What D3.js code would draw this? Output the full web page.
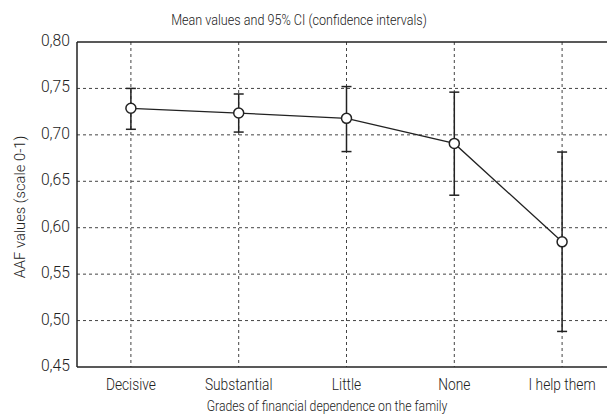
<!DOCTYPE html>
<html>
<head>
<meta charset="utf-8">
<script src="https://cdn.jsdelivr.net/npm/d3@7"></script>
<style>
  body { margin: 0; background: #fff; }
  text { font-family: "Roboto", "Liberation Sans", sans-serif; font-weight: 300; fill: #222; }
</style>
</head>
<body>
<div id="chart"></div>
<script>
var categories = ["Decisive", "Substantial", "Little", "None", "I help them"];
var means = [0.7286, 0.7235, 0.7178, 0.6908, 0.5848];
var upper = [0.750, 0.744, 0.752, 0.746, 0.6815];
var lower = [0.706, 0.703, 0.682, 0.635, 0.4883];
var yTicks = [0.45, 0.50, 0.55, 0.60, 0.65, 0.70, 0.75, 0.80];

var width = 607,
    height = 414,
    margin = {top: 42, right: -9, bottom: 47, left: 77};

var svg = d3.select("#chart").append("svg")
  .attr("width", width)
  .attr("height", height);

var x = d3.scalePoint()
  .domain(categories)
  .range([margin.left, width - margin.right])
  .padding(0.5);

var y = d3.scaleLinear()
  .domain([0.45, 0.80])
  .range([height - margin.bottom, margin.top]);

var fmt = function(d) { return d3.format(".2f")(d).replace(".", ","); };

// narrow type: squeeze text horizontally
function label(g, tx, ty, anchor, size, squeeze, txt, rot) {
  return g.append("text")
    .attr("transform", "translate(" + tx + "," + ty + ")" + (rot ? " rotate(" + rot + ")" : "") + " scale(" + squeeze + ",1)")
    .attr("text-anchor", anchor)
    .attr("font-size", size)
    .text(txt);
}

// dashed grid
svg.append("g").selectAll("line")
  .data(yTicks.slice(1, -1))
  .join("line")
    .attr("x1", margin.left).attr("x2", width - margin.right)
    .attr("y1", d => y(d)).attr("y2", d => y(d))
    .attr("stroke", "#444").attr("stroke-width", 1)
    .attr("stroke-dasharray", "3,3");

svg.append("g").selectAll("line")
  .data(categories)
  .join("line")
    .attr("x1", d => x(d)).attr("x2", d => x(d))
    .attr("y1", y(0.80)).attr("y2", y(0.45))
    .attr("stroke", "#444").attr("stroke-width", 1)
    .attr("stroke-dasharray", "3,3");

// frame: top, bottom, left
[0.80, 0.45].forEach(function(v) {
  svg.append("line")
    .attr("x1", margin.left).attr("x2", width - margin.right)
    .attr("y1", y(v)).attr("y2", y(v))
    .attr("stroke", "#222").attr("stroke-width", 1.5);
});
svg.append("line")
  .attr("x1", margin.left).attr("x2", margin.left)
  .attr("y1", y(0.80)).attr("y2", y(0.45))
  .attr("stroke", "#222").attr("stroke-width", 1.5);

// y tick labels
var yl = svg.append("g");
yTicks.forEach(function(d) {
  label(yl, margin.left - 7, y(d) + 4, "end", 16, 0.98, fmt(d));
});

// x tick labels
var xl = svg.append("g");
categories.forEach(function(d) {
  label(xl, x(d), 390, "middle", 16, 0.86, d);
});

// titles
label(svg, 299, 25, "middle", 15, 0.84, "Mean values and 95% CI (confidence intervals)");
label(svg, 327, 411, "middle", 15.5, 0.79, "Grades of financial dependence on the family");
label(svg, 25, 207, "middle", 15.5, 0.95, "AAF values (scale 0-1)", -90);

// error bars
var data = categories.map(function(c, i) {
  return {cat: c, mean: means[i], hi: upper[i], lo: lower[i]};
});

var bars = svg.append("g").attr("stroke", "#222").attr("stroke-width", 1.5);
bars.selectAll("line.v")
  .data(data)
  .join("line")
    .attr("class", "v")
    .attr("x1", d => x(d.cat)).attr("x2", d => x(d.cat))
    .attr("y1", d => y(d.hi)).attr("y2", d => y(d.lo));
bars.selectAll("line.hi")
  .data(data)
  .join("line")
    .attr("class", "hi")
    .attr("x1", d => x(d.cat) - 5).attr("x2", d => x(d.cat) + 5)
    .attr("y1", d => y(d.hi)).attr("y2", d => y(d.hi));
bars.selectAll("line.lo")
  .data(data)
  .join("line")
    .attr("class", "lo")
    .attr("x1", d => x(d.cat) - 5).attr("x2", d => x(d.cat) + 5)
    .attr("y1", d => y(d.lo)).attr("y2", d => y(d.lo));

// mean line and markers
var line = d3.line()
  .x(d => x(d.cat))
  .y(d => y(d.mean));

svg.append("path")
  .datum(data)
  .attr("d", line)
  .attr("fill", "none")
  .attr("stroke", "#222")
  .attr("stroke-width", 1.3);

svg.append("g").selectAll("circle")
  .data(data)
  .join("circle")
    .attr("cx", d => x(d.cat))
    .attr("cy", d => y(d.mean))
    .attr("r", 5)
    .attr("fill", "#fff")
    .attr("stroke", "#222")
    .attr("stroke-width", 1.5);
</script>
</body>
</html>
